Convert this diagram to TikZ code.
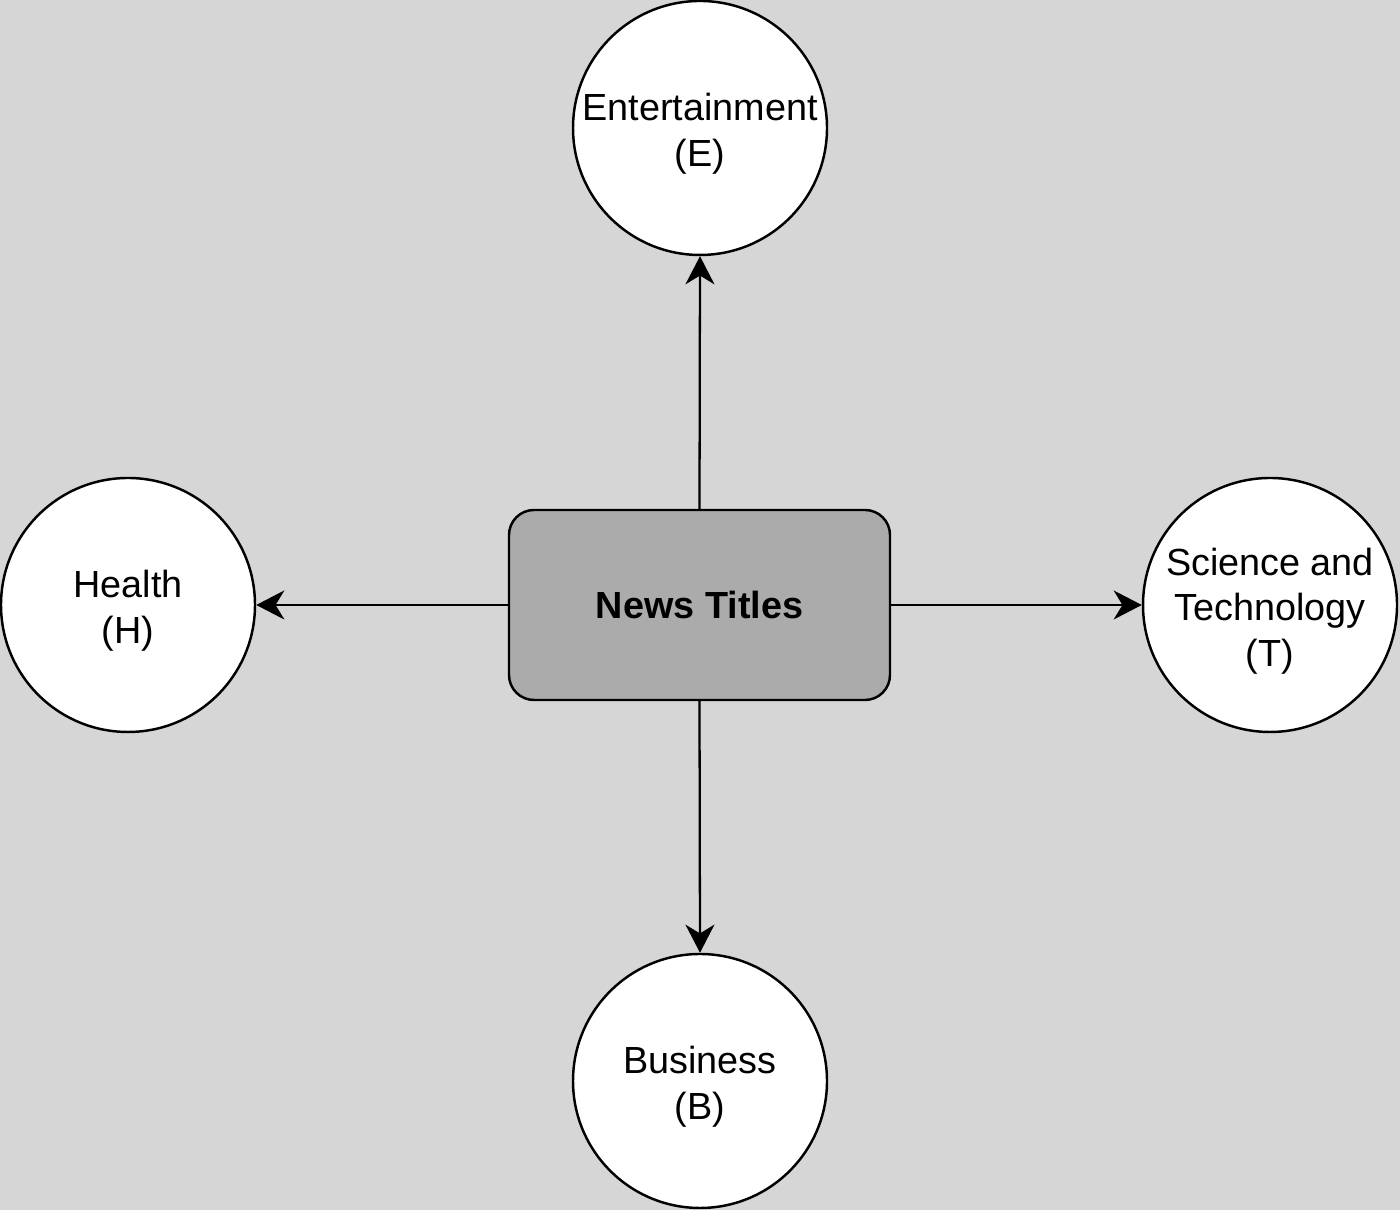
\documentclass[tikz,border=0pt]{standalone}
\usepackage{fontspec}
\setmainfont{Liberation Sans}
\usetikzlibrary{arrows.meta}
\definecolor{bg}{HTML}{D6D6D6}
\definecolor{boxgray}{HTML}{ABABAB}
\tikzset{
  topic/.style={draw=black, line width=1.4pt, fill=white, circle, minimum size=5.08cm, inner sep=0pt,
    label={[align=center, yshift=-0.12cm, font=\fontsize{21.5}{26}\selectfont]center:{#1}}},
  titles/.style={draw=black, line width=1.4pt, fill=boxgray, rounded corners=0.5cm, minimum width=7.62cm, minimum height=3.8cm, font=\fontsize{21.5}{26}\selectfont\bfseries},
  link/.style={line width=1.3pt, -{Stealth[length=16pt,width=16.5pt,inset=5pt]}}
}
\begin{document}
\begin{tikzpicture}
\fill[bg] (0,0) rectangle (28,24.2);
\useasboundingbox (0,0) rectangle (28,24.2);
\node[titles] (N) at (13.99,12.1) {News Titles};
\node[topic={Entertainment\\(E)}] (E) at (14,21.64) {};
\node[topic={Health\\(H)}] (H) at (2.56,12.1) {};
\node[topic={Science and\\Technology\\(T)}] (T) at (25.4,12.1) {};
\node[topic={Business\\(B)}] (B) at (14,2.58) {};
\draw[link] (N.north) -- (E.south);
\draw[link] (N.south) -- (B.north);
\draw[link] (N.west) -- (H.east);
\draw[link] (N.east) -- (T.west);
\end{tikzpicture}
\end{document}
